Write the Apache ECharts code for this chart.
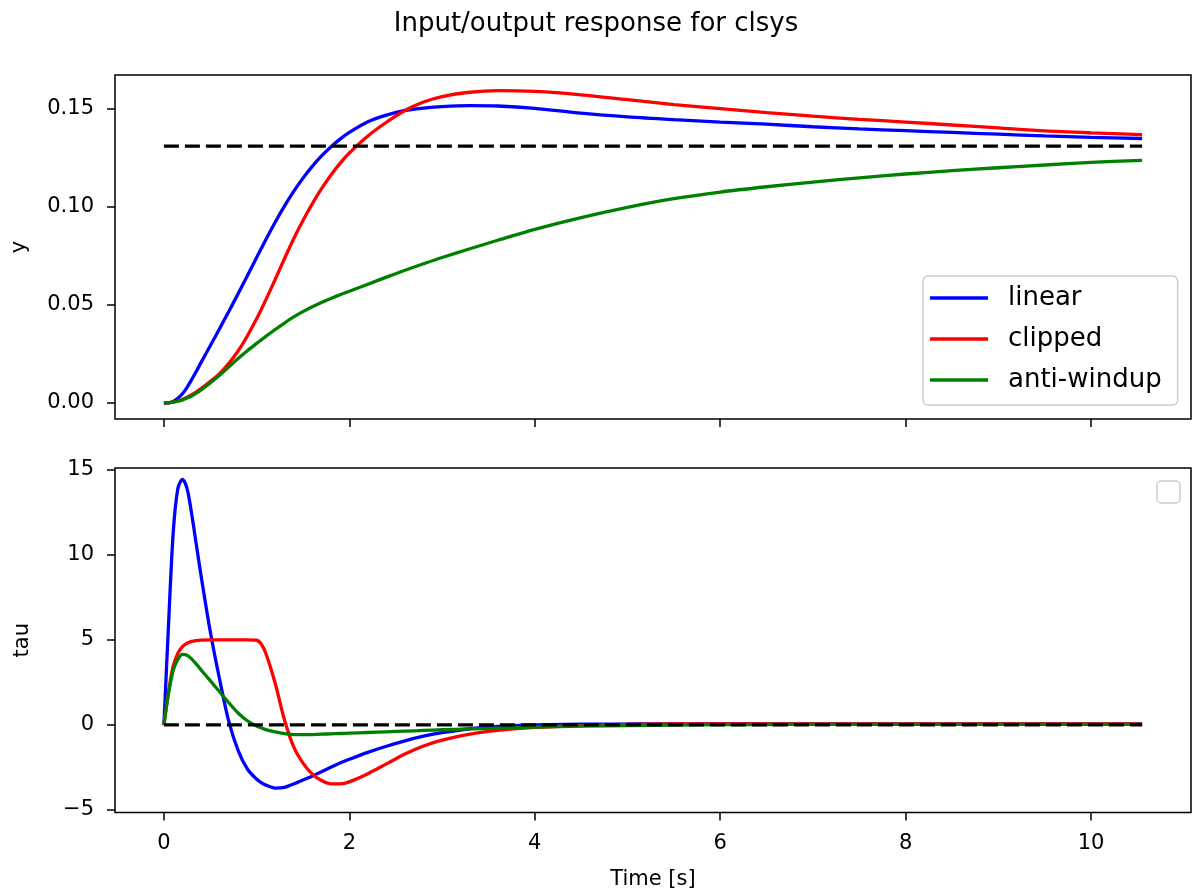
<!DOCTYPE html>
<html>
<head>
<meta charset="utf-8">
<script src="https://cdn.jsdelivr.net/npm/echarts@6/dist/echarts.min.js"></script>
<style>
html,body{margin:0;padding:0;background:#ffffff;}
#chart{width:1192px;height:892px;}
</style>
</head>
<body>
<div id="chart"></div>
<script>
// ---- data ----
const timeS = [0, 0.05, 0.1, 0.15, 0.2, 0.25, 0.3, 0.35, 0.4, 0.5, 0.6, 0.7, 0.8, 0.9, 1.0, 1.05, 1.1, 1.2, 1.3, 1.4, 1.5, 1.6, 1.7, 1.8, 1.9, 2.0, 2.2, 2.4, 2.6, 2.8, 3.0, 3.3, 3.6, 4.0, 4.5, 5.0, 5.5, 6.0, 6.5, 7.0, 7.5, 8.0, 8.5, 9.0, 9.5, 10.0, 10.55];

const yLinear = [0, 0.0001, 0.0008, 0.0024, 0.0047, 0.0080, 0.0120, 0.0162, 0.0206, 0.0292, 0.0379, 0.0467, 0.0557, 0.0649, 0.0742, 0.0788, 0.0834, 0.0922, 0.1004, 0.1079, 0.1147, 0.1207, 0.1260, 0.1306, 0.1346, 0.1380, 0.1434, 0.1468, 0.1492, 0.1504, 0.1512, 0.1517, 0.1515, 0.1503, 0.1478, 0.1459, 0.1445, 0.1433, 0.1422, 0.1409, 0.1398, 0.1389, 0.1380, 0.1371, 0.1362, 0.1355, 0.1349];
const yClipped = [0, 0.0001, 0.0004, 0.0010, 0.0018, 0.0029, 0.0042, 0.0057, 0.0074, 0.0110, 0.0150, 0.0202, 0.0265, 0.0342, 0.0430, 0.0477, 0.0527, 0.0630, 0.0736, 0.0838, 0.0931, 0.1016, 0.1093, 0.1162, 0.1222, 0.1275, 0.1362, 0.1432, 0.1492, 0.1535, 0.1563, 0.1585, 0.1593, 0.1589, 0.1572, 0.1547, 0.1522, 0.1501, 0.1481, 0.1463, 0.1447, 0.1433, 0.1418, 0.1403, 0.1388, 0.1378, 0.1369];
const yAntiWindup = [0, 0.0001, 0.0004, 0.0009, 0.0016, 0.0025, 0.0036, 0.0050, 0.0066, 0.0102, 0.0141, 0.0184, 0.0227, 0.0267, 0.0304, 0.0322, 0.0340, 0.0375, 0.0408, 0.0439, 0.0466, 0.0491, 0.0513, 0.0533, 0.0552, 0.0570, 0.0606, 0.0642, 0.0677, 0.0710, 0.0742, 0.0787, 0.0830, 0.0886, 0.0946, 0.0998, 0.1042, 0.1076, 0.1103, 0.1127, 0.1148, 0.1168, 0.1185, 0.1200, 0.1214, 0.1227, 0.1238];

const tauLinear = [0, 5.9, 11.3, 13.9, 14.45, 13.9, 12.4, 10.6, 8.8, 5.5, 2.7, 0.2, -1.5, -2.6, -3.2, -3.4, -3.55, -3.72, -3.68, -3.48, -3.25, -3.02, -2.76, -2.5, -2.25, -2.03, -1.62, -1.26, -0.94, -0.67, -0.46, -0.23, -0.09, 0.0, 0.04, 0.05, 0.06, 0.06, 0.06, 0.06, 0.06, 0.06, 0.06, 0.06, 0.06, 0.06, 0.06];
const tauClipped = [0, 1.95, 3.45, 4.2, 4.6, 4.8, 4.91, 4.96, 4.99, 5.0, 5.0, 5.0, 5.0, 5.0, 4.98, 4.75, 4.2, 2.45, 0.3, -1.3, -2.25, -2.9, -3.28, -3.47, -3.48, -3.36, -2.88, -2.3, -1.72, -1.25, -0.9, -0.55, -0.33, -0.15, -0.04, 0.02, 0.05, 0.06, 0.06, 0.06, 0.06, 0.06, 0.06, 0.06, 0.06, 0.06, 0.06];
const tauAntiWindup = [0, 1.85, 3.2, 3.85, 4.15, 4.1, 3.87, 3.57, 3.24, 2.6, 1.95, 1.3, 0.7, 0.24, -0.07, -0.18, -0.28, -0.42, -0.52, -0.57, -0.58, -0.57, -0.55, -0.53, -0.51, -0.49, -0.45, -0.41, -0.37, -0.33, -0.29, -0.24, -0.19, -0.14, -0.08, -0.04, -0.01, 0.01, 0.02, 0.03, 0.03, 0.03, 0.03, 0.03, 0.03, 0.03, 0.03];

const refTimes = [0, 10.55];
const yRef = [0.131, 0.131];
const tauRef = [0, 0];

const seriesNames = ['linear', 'clipped', 'anti-windup'];

const xTicks = [0, 2, 4, 6, 8, 10];
const xTickLabels = ['0', '2', '4', '6', '8', '10'];
const yTicks = [0, 0.05, 0.10, 0.15];
const yTickLabels = ['0.00', '0.05', '0.10', '0.15'];
const tauTicks = [-5, 0, 5, 10, 15];
const tauTickLabels = ['\u22125', '0', '5', '10', '15'];

// ---- chart ----
const FONT = 'DejaVu Sans';
const X_MIN = -0.5275, X_MAX = 11.0775;
const Y_MIN = -0.00816, Y_MAX = 0.1673;
const TAU_MIN = -5.16, TAU_MAX = 15.12;

function pairs(xs, ys) { return xs.map((x, i) => [x, ys[i]]); }
function labelFor(ticks, labels) {
  return function (v) {
    const i = ticks.findIndex(t => Math.abs(t - v) < 1e-9);
    return i >= 0 ? labels[i] : '';
  };
}
function line(name, xs, ys, color, idx, dashed) {
  return {
    type: 'line', name: name, data: pairs(xs, ys),
    xAxisIndex: idx, yAxisIndex: idx,
    showSymbol: false, symbol: 'none',
    smooth: dashed ? false : 0.3,
    color: color, itemStyle: { color: color },
    lineStyle: { color: color, width: 3.3, type: dashed ? [15, 6] : 'solid' },
    silent: true, animation: false, z: dashed ? 3 : 2
  };
}

const axisText = { fontFamily: FONT, fontSize: 21, color: '#000' };
const tickStyle = { color: '#000', width: 1.5 };

const chart = echarts.init(document.getElementById('chart'), null, { renderer: 'canvas' });
chart.setOption({
  animation: false,
  backgroundColor: '#ffffff',
  title: {
    text: 'Input/output response for clsys', left: 'center', top: 6,
    textStyle: { fontFamily: FONT, fontSize: 26, fontWeight: 'normal', color: '#000' }
  },
  grid: [
    { left: 115, top: 75, width: 1076, height: 344, show: true, borderColor: '#000', borderWidth: 1.5, backgroundColor: 'transparent' },
    { left: 115, top: 468, width: 1076, height: 344.5, show: true, borderColor: '#000', borderWidth: 1.5, backgroundColor: 'transparent' }
  ],
  xAxis: [0, 1].map(i => ({
    type: 'value', gridIndex: i, min: X_MIN, max: X_MAX,
    splitLine: { show: false }, axisLine: { show: false, onZero: false },
    axisTick: { show: true, customValues: xTicks, length: 8, lineStyle: tickStyle },
    axisLabel: Object.assign({ show: i === 1, customValues: xTicks, margin: 21, formatter: labelFor(xTicks, xTickLabels) }, axisText),
    name: i === 1 ? 'Time [s]' : '', nameLocation: 'middle', nameGap: 57,
    nameTextStyle: axisText
  })),
  yAxis: [
    {
      type: 'value', gridIndex: 0, min: Y_MIN, max: Y_MAX,
      splitLine: { show: false }, axisLine: { show: false, onZero: false },
      axisTick: { show: true, customValues: yTicks, length: 8, lineStyle: tickStyle },
      axisLabel: Object.assign({ customValues: yTicks, margin: 21, formatter: labelFor(yTicks, yTickLabels) }, axisText),
      name: 'y', nameLocation: 'middle', nameGap: 85, nameTextStyle: axisText
    },
    {
      type: 'value', gridIndex: 1, min: TAU_MIN, max: TAU_MAX,
      splitLine: { show: false }, axisLine: { show: false, onZero: false },
      axisTick: { show: true, customValues: tauTicks, length: 8, lineStyle: tickStyle },
      axisLabel: Object.assign({ customValues: tauTicks, margin: 21, formatter: labelFor(tauTicks, tauTickLabels) }, axisText),
      name: 'tau', nameLocation: 'middle', nameGap: 82, nameTextStyle: axisText
    }
  ],
  legend: {
    data: seriesNames,
    orient: 'vertical', left: 923, top: 276,
    padding: [7, 16, 10, 7],
    itemWidth: 58, itemHeight: 3.3, itemGap: 11,
    icon: 'rect',
    backgroundColor: 'rgba(255,255,255,0.8)', borderColor: '#cccccc', borderWidth: 1.5, borderRadius: 5,
    textStyle: { fontFamily: FONT, fontSize: 26, color: '#000', lineHeight: 30, padding: [0, 0, 0, 15] },
    selectedMode: false
  },
  graphic: [
    { type: 'rect', shape: { x: 1157, y: 481, width: 23, height: 22, r: 4 },
      style: { fill: 'rgba(255,255,255,0.8)', stroke: '#cccccc', lineWidth: 1.5 }, z: 100, silent: true }
  ],
  series: [
    line(seriesNames[0], timeS, yLinear, '#0000ff', 0, false),
    line(seriesNames[1], timeS, yClipped, '#ff0000', 0, false),
    line(seriesNames[2], timeS, yAntiWindup, '#008000', 0, false),
    line('reference', refTimes, yRef, '#000000', 0, true),
    line(seriesNames[0], timeS, tauLinear, '#0000ff', 1, false),
    line(seriesNames[1], timeS, tauClipped, '#ff0000', 1, false),
    line(seriesNames[2], timeS, tauAntiWindup, '#008000', 1, false),
    line('reference', refTimes, tauRef, '#000000', 1, true)
  ]
});
</script>
</body>
</html>
